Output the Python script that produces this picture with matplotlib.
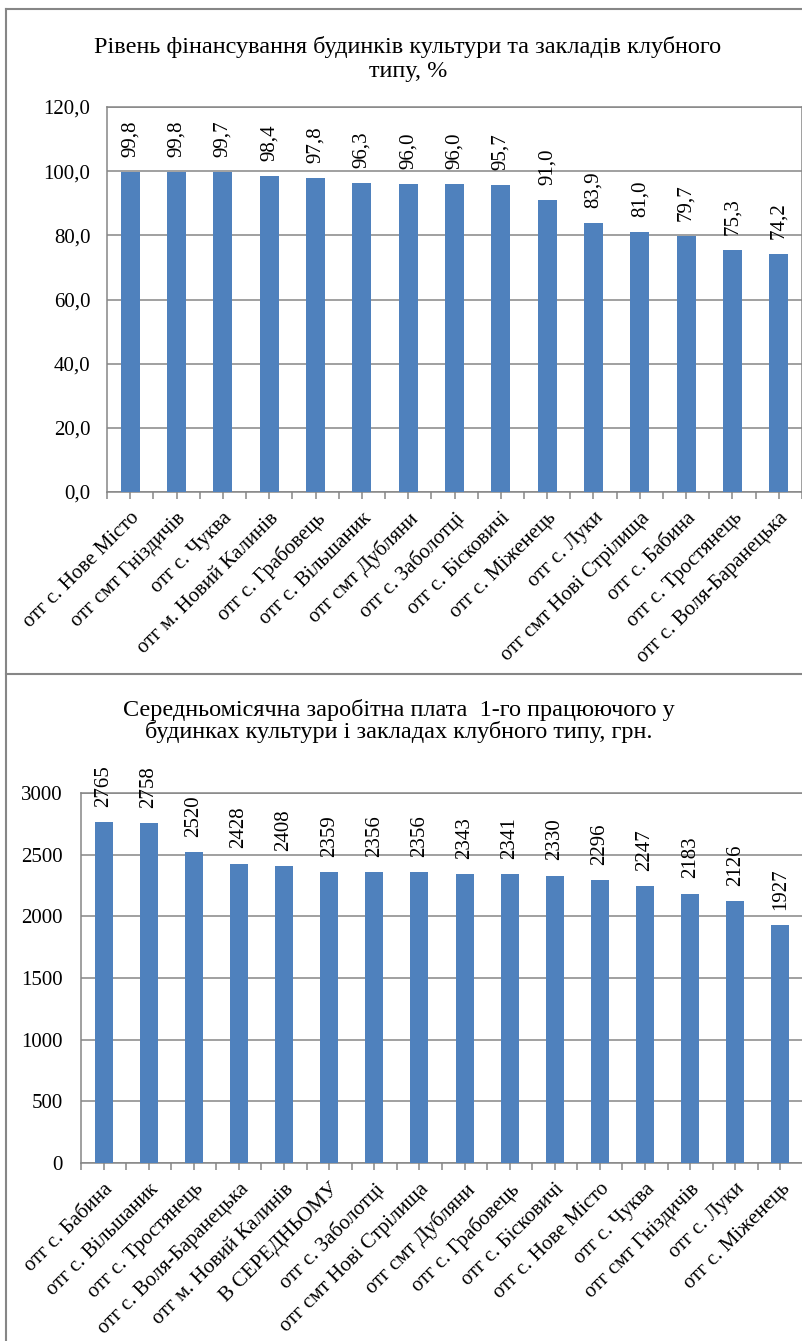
# Два стовпчикові графіки: фінансування та зарплата в будинках культури
import matplotlib.pyplot as plt
from matplotlib.lines import Line2D
import numpy as np

plt.rcParams['font.family'] = ['Liberation Serif', 'DejaVu Serif']

# ── DATA ───────────────────────────────────────────────
fin_labels = ['отг с. Нове Місто', 'отг смт Гніздичів', 'отг с. Чуква',
              'отг м. Новий Калинів', 'отг с. Грабовець', 'отг с. Вільшаник',
              'отг смт Дубляни', 'отг с. Заболотці', 'отг с. Бісковичі',
              'отг с. Міженець', 'отг с. Луки', 'отг смт Нові Стрілища',
              'отг с. Бабина', 'отг с. Тростянець', 'отг с. Воля-Баранецька']
fin_values = [99.8, 99.8, 99.7, 98.4, 97.8, 96.3, 96.0, 96.0, 95.7,
              91.0, 83.9, 81.0, 79.7, 75.3, 74.2]

wage_labels = ['отг с. Бабина', 'отг с. Вільшаник', 'отг с. Тростянець',
               'отг с. Воля-Баранецька', 'отг м. Новий Калинів', 'В СЕРЕДНЬОМУ',
               'отг с. Заболотці', 'отг смт Нові Стрілища', 'отг смт Дубляни',
               'отг с. Грабовець', 'отг с. Бісковичі', 'отг с. Нове Місто',
               'отг с. Чуква', 'отг смт Гніздичів', 'отг с. Луки', 'отг с. Міженець']
wage_values = [2765, 2758, 2520, 2428, 2408, 2359, 2356, 2356, 2343,
               2341, 2330, 2296, 2247, 2183, 2126, 1927]

fin_title = 'Рівень фінансування будинків культури та закладів клубного\nтипу, %'
wage_title = ('Середньомісячна заробітна плата  1-го працюючого у\n'
              'будинках культури і закладах клубного типу, грн.')

# ── STYLE ──────────────────────────────────────────────
W, H = 803, 1341
BAR = '#4F81BD'
GREY = '#868686'
FS = 15
TFS = 17.5

fig = plt.figure(figsize=(W / 100, H / 100), dpi=100)


def fx(px):
    return px / W


def fy(py):
    return 1 - py / H


def draw_bars(ax, labels, values, ylim, yticks, yfmt, vfmt, width, ypad):
    n = len(values)
    x = np.arange(n)
    ax.bar(x, values, width=width, color=BAR, zorder=3)
    ax.set_xlim(-0.5, n - 0.5)
    ax.set_ylim(*ylim)
    ax.set_yticks(yticks)
    ax.set_yticklabels([yfmt(v) for v in yticks], fontsize=FS)
    ax.yaxis.grid(True, color=GREY, linewidth=1.1, zorder=0)
    ax.set_axisbelow(True)
    ax.set_xticks(x)
    ax.set_xticks(np.arange(n + 1) - 0.5, minor=True)
    ax.set_xticklabels(labels, rotation=45, ha='right', va='top',
                       rotation_mode='anchor', fontsize=FS)
    ax.tick_params(axis='x', which='both', length=5, width=1.1, color=GREY, pad=7)
    ax.tick_params(axis='y', length=0, pad=ypad)
    for s in ax.spines.values():
        s.set_color(GREY)
        s.set_linewidth(1.1)
    for xi, v in zip(x, values):
        ax.annotate(vfmt(v), (xi, v), xytext=(0, 11), textcoords='offset points',
                    rotation=90, ha='center', va='bottom', fontsize=FS)


# Верхній графік
ax1 = fig.add_axes([fx(107), fy(492), fx(802 - 107), fy(107) - fy(492)])
draw_bars(ax1, fin_labels, fin_values, (0, 120), np.arange(0, 121, 20),
          lambda v: f'{v:.1f}'.replace('.', ','),
          lambda v: f'{v:.1f}'.replace('.', ','), 0.41, 12)

# Нижній графік
ax2 = fig.add_axes([fx(81), fy(1163), fx(803 - 81), fy(793) - fy(1163)])
draw_bars(ax2, wage_labels, wage_values, (0, 3000), np.arange(0, 3001, 500),
          lambda v: f'{v:d}', lambda v: f'{v:d}', 0.40, 13)

# Заголовки
fig.text(fx(408), fy(59), fin_title, ha='center', va='center',
         fontsize=TFS, linespacing=1.15)
fig.text(fx(399), fy(721), wage_title, ha='center', va='center',
         fontsize=TFS, linespacing=1.05)

# Рамки панелей
for xs, ys in [((6.5, 6.5), (9, H)), ((6.5, W), (9, 9)), ((6.5, W), (674, 674))]:
    fig.add_artist(Line2D([fx(v) for v in xs], [fy(v) for v in ys],
                          color=GREY, linewidth=1.5))

plt.savefig('out.png', dpi=100)
